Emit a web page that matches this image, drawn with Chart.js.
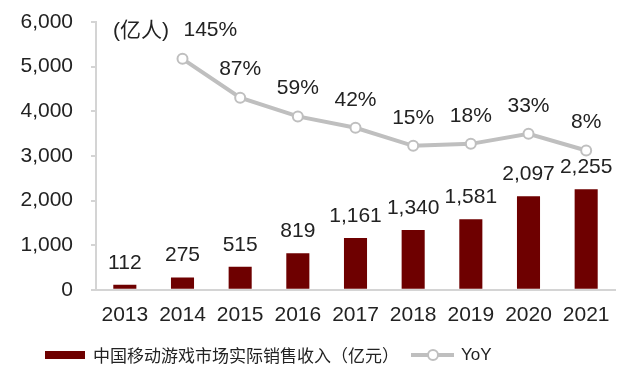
<!DOCTYPE html>
<html lang="zh">
  <head>
    <meta charset="UTF-8" />
    <title>中国移动游戏市场实际销售收入</title>
    <script src="https://cdn.jsdelivr.net/npm/chart.js"></script>
    <style>
      body { margin: 0; background: #fff; }
      #wrap { position: relative; width: 640px; height: 392px; }
      .legend {
        position: absolute; left: 45px; top: 342px;
        font: 17px "Liberation Sans", "Noto Sans CJK SC", sans-serif;
        color: #222; display: flex; align-items: center; white-space: nowrap;
      }
      .box { display: inline-block; width: 40px; height: 8px; background: #6e0000; margin-right: 8px; }
      .ln { display: inline-block; position: relative; width: 43px; height: 4px; background: #bfbfbf; margin: 0 7px 0 12px; }
      .ln i { position: absolute; left: 16px; top: -4px; width: 8px; height: 8px; border: 2px solid #bfbfbf; border-radius: 50%; background: #fff; }
    </style>
  </head>
  <body>
    <div id="wrap">
      <canvas id="c" width="640" height="392"></canvas>
      <div class="legend">
        <span class="box"></span><span>中国移动游戏市场实际销售收入（亿元）</span>
        <span class="ln"><i></i></span><span>YoY</span>
      </div>
    </div>
    <script>
      const years = ['2013', '2014', '2015', '2016', '2017', '2018', '2019', '2020', '2021'];
      const revenue = [112, 275, 515, 819, 1161, 1340, 1581, 2097, 2255];
      const yoy = [null, 145, 87, 59, 42, 15, 18, 33, 8];
      const yTicks = [0, 1000, 2000, 3000, 4000, 5000, 6000];

      const FONT = '"Liberation Sans", "Noto Sans CJK SC", sans-serif';
      const TEXT = '#222';
      const AXIS = '#d4d4d4';
      const FS = 21;

      const labelPlugin = {
        id: 'labels',
        afterDatasetsDraw(chart) {
          const ctx = chart.ctx;
          ctx.save();
          ctx.font = FS + 'px ' + FONT;
          ctx.fillStyle = TEXT;
          ctx.textBaseline = 'middle';
          ctx.textAlign = 'center';
          // datasets[1] = bars
          chart.getDatasetMeta(1).data.forEach((bar, i) => {
            ctx.fillText(revenue[i].toLocaleString('en-US'), bar.x, bar.y - 22);
          });
          // datasets[0] = YoY line
          chart.getDatasetMeta(0).data.forEach((pt, i) => {
            if (yoy[i] == null) return;
            if (i === 1) {
              // first label sits to the right so it clears the unit text
              ctx.textAlign = 'left';
              ctx.fillText(yoy[i] + '%', pt.x + 1, pt.y - 29);
              ctx.textAlign = 'center';
            } else {
              ctx.fillText(yoy[i] + '%', pt.x, pt.y - 28);
            }
          });
          // unit label
          ctx.textAlign = 'left';
          ctx.fillText('(亿人)', chart.chartArea.left + 17, chart.chartArea.top + 9);
          ctx.restore();
        }
      };

      new Chart(document.getElementById('c'), {
        data: {
          labels: years,
          datasets: [
            {
              type: 'line',
              label: 'YoY',
              data: yoy,
              yAxisID: 'y2',
              borderColor: '#bfbfbf',
              borderWidth: 4,
              pointRadius: 5,
              pointBackgroundColor: '#fff',
              pointBorderColor: '#bfbfbf',
              pointBorderWidth: 2,
              order: 0
            },
            {
              type: 'bar',
              label: '中国移动游戏市场实际销售收入（亿元）',
              data: revenue,
              yAxisID: 'y',
              backgroundColor: '#6e0000',
              barPercentage: 0.4,
              categoryPercentage: 1,
              order: 1
            }
          ]
        },
        options: {
          responsive: false,
          animation: false,
          layout: { padding: { top: 22, right: 25, bottom: 51, left: 0 } },
          plugins: { legend: { display: false }, tooltip: { enabled: false } },
          scales: {
            x: {
              grid: { display: false, drawTicks: false },
              border: { color: AXIS, width: 2 },
              ticks: { color: TEXT, font: { family: FONT, size: FS }, padding: 13 }
            },
            y: {
              min: 0, max: 6000,
              afterBuildTicks: s => { s.ticks = yTicks.map(v => ({ value: v })); },
              afterFit: s => { s.width = 96; s.paddingTop = 0; s.paddingBottom = 0; },
              grid: { drawOnChartArea: false, drawTicks: true, tickLength: 5, color: AXIS, lineWidth: 2 },
              border: { color: AXIS, width: 2 },
              ticks: {
                color: TEXT, font: { family: FONT, size: FS }, padding: 18,
                callback: v => v.toLocaleString('en-US')
              }
            },
            y2: { display: false, min: -200, max: 200 }
          }
        },
        plugins: [labelPlugin]
      });
    </script>
  </body>
</html>
